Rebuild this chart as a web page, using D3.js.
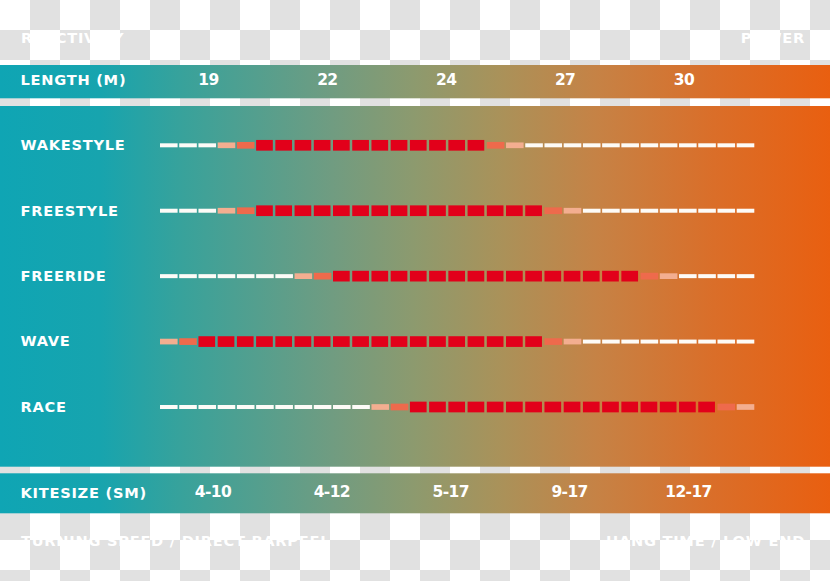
<!DOCTYPE html>
<html>
<head>
<meta charset="utf-8">
<script src="https://cdn.jsdelivr.net/npm/d3@7"></script>
<style>
  html, body { margin: 0; padding: 0; background: #fff; }
  svg { display: block; }
  text { font-family: "DejaVu Sans", sans-serif; font-weight: 700; fill: #fff; }
</style>
</head>
<body>
<svg id="chart" width="830" height="581"></svg>
<script>
// disciplines and the sweet spot (red cells) on a 31 step scale
const disciplines = ['WAKESTYLE', 'FREESTYLE', 'FREERIDE', 'WAVE', 'RACE'];
const sweetStart = [5, 5, 9, 2, 13];
const sweetEnd = [16, 19, 24, 19, 28];
const cellCount = 31;

const lengthTicks = ['19', '22', '24', '27', '30'];
const kiteSizeTicks = ['4-10', '4-12', '5-17', '9-17', '12-17'];

const W = 830, H = 581;
const svg = d3.select('#chart');
const defs = svg.append('defs');

// transparency checkerboard behind everything
const pat = defs.append('pattern')
  .attr('id', 'checker')
  .attr('width', 60).attr('height', 60)
  .attr('patternUnits', 'userSpaceOnUse');
pat.append('rect').attr('width', 60).attr('height', 60).attr('fill', '#ffffff');
pat.append('rect').attr('x', 30).attr('width', 30).attr('height', 30).attr('fill', '#e1e1e1');
pat.append('rect').attr('y', 30).attr('width', 30).attr('height', 30).attr('fill', '#e1e1e1');

const grad = defs.append('linearGradient')
  .attr('id', 'bg')
  .attr('gradientUnits', 'userSpaceOnUse')
  .attr('x1', 0).attr('x2', W).attr('y1', 0).attr('y2', 0);
[[0, '#0fa5b4'], [0.12, '#17a4ae'], [0.22, '#38a29b'], [0.4, '#709c81'],
 [0.5, '#8d9a6e'], [0.6, '#a9925a'], [0.72, '#c68245'], [0.86, '#da6e29'], [1, '#e95f10']]
  .forEach(([o, c]) => grad.append('stop').attr('offset', o).attr('stop-color', c));

svg.append('rect').attr('width', W).attr('height', H).attr('fill', 'url(#checker)');

// bands
svg.append('rect').attr('x', 0).attr('y', 65).attr('width', W).attr('height', 33.3).attr('fill', 'url(#bg)');
svg.append('rect').attr('x', 0).attr('y', 106).attr('width', W).attr('height', 360.7).attr('fill', 'url(#bg)');
svg.append('rect').attr('x', 0).attr('y', 473.3).attr('width', W).attr('height', 40).attr('fill', 'url(#bg)');

// scales
const x = d3.scaleBand()
  .domain(d3.range(cellCount))
  .range([160, 754])
  .paddingInner(0.1)
  .paddingOuter(0);

const y = d3.scalePoint()
  .domain(disciplines)
  .range([145.3, 407]);

const col = d3.scalePoint()
  .domain(d3.range(lengthTicks.length))
  .range([208.5, 684]);

// cell level: 0 white dash, 1 light, 2 coral, 3 red
const levelColor = ['#fdfbf7', '#f3ae90', '#ee6a4c', '#e2001a'];
const levelHeight = [4, 5.7, 6.7, 10.7];
function level(d, i) {
  const s = sweetStart[d], e = sweetEnd[d];
  if (i >= s && i <= e) return 3;
  if (i === s - 1 || i === e + 1) return 2;
  if (i === s - 2 || i === e + 2) return 1;
  return 0;
}

const fs = 14.6;
const capShift = 0.33; // baseline offset to centre capitals
const ls = 0.75;

// rows
const rows = svg.append('g').selectAll('g')
  .data(disciplines)
  .join('g')
  .attr('transform', d => `translate(0,${y(d)})`);

rows.append('text')
  .attr('x', 20.5)
  .attr('y', fs * capShift)
  .attr('font-size', fs)
  .attr('letter-spacing', ls)
  .text(d => d);

rows.selectAll('rect')
  .data((d, di) => d3.range(cellCount).map(i => ({ i, lv: level(di, i) })))
  .join('rect')
  .attr('x', c => x(c.i))
  .attr('width', c => c.lv === 3 ? x.bandwidth() - 0.6 : x.bandwidth() + 0.3)
  .attr('y', c => -levelHeight[c.lv] / 2)
  .attr('height', c => levelHeight[c.lv])
  .attr('fill', c => levelColor[c.lv]);

// header band
svg.append('text')
  .attr('x', 20.5).attr('y', 80.5 + fs * capShift)
  .attr('font-size', fs).attr('letter-spacing', ls)
  .text('LENGTH (M)');

const nfs = 15.5;
svg.append('g').selectAll('text')
  .data(lengthTicks)
  .join('text')
  .attr('x', (d, i) => col(i))
  .attr('y', 80 + nfs * capShift)
  .attr('font-size', nfs)
  .attr('letter-spacing', -0.6)
  .attr('text-anchor', 'middle')
  .text(d => d);

// footer band
svg.append('text')
  .attr('x', 20.5).attr('y', 493 + fs * capShift)
  .attr('font-size', fs).attr('letter-spacing', ls)
  .text('KITESIZE (SM)');

svg.append('g').selectAll('text')
  .data(kiteSizeTicks)
  .join('text')
  .attr('x', (d, i) => col(i) + 4.5)
  .attr('y', 492 + nfs * capShift)
  .attr('font-size', nfs)
  .attr('letter-spacing', -0.6)
  .attr('text-anchor', 'middle')
  .text(d => d);

// white captions sitting on the checkerboard
svg.append('text').attr('x', 21).attr('y', 38 + fs * capShift)
  .attr('font-size', fs).attr('letter-spacing', ls).text('REACTIVITY');
svg.append('text').attr('x', 805).attr('y', 38 + fs * capShift)
  .attr('font-size', fs).attr('letter-spacing', ls).attr('text-anchor', 'end').text('POWER');
svg.append('text').attr('x', 21).attr('y', 541 + fs * capShift)
  .attr('font-size', fs).attr('letter-spacing', ls).text('TURNING SPEED / DIRECT BARPEEL');
svg.append('text').attr('x', 805).attr('y', 541 + fs * capShift)
  .attr('font-size', fs).attr('letter-spacing', ls).attr('text-anchor', 'end').text('HANG TIME / LOW END');
</script>
</body>
</html>
